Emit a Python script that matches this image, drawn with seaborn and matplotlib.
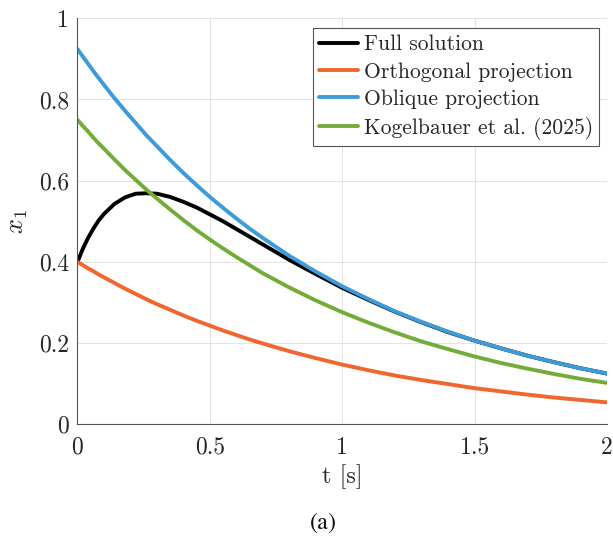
import matplotlib
matplotlib.use("Agg")
import matplotlib.pyplot as plt
from matplotlib.font_manager import FontProperties
import seaborn as sns
import pandas as pd

# time samples [s]
t = [0.00, 0.02, 0.04, 0.06, 0.08, 0.10, 0.14, 0.18, 0.22, 0.26, 0.30,
     0.35, 0.40, 0.45, 0.50, 0.55, 0.60, 0.65, 0.70, 0.80, 0.90, 1.00,
     1.10, 1.20, 1.30, 1.40, 1.50, 1.60, 1.70, 1.80, 1.90, 2.00]

full_solution = [0.400, 0.432, 0.459, 0.482, 0.502, 0.518, 0.543, 0.559, 0.568, 0.569, 0.568,
                 0.560, 0.548, 0.534, 0.517, 0.500, 0.481, 0.462, 0.443, 0.405, 0.370, 0.336,
                 0.306, 0.277, 0.251, 0.227, 0.206, 0.187, 0.169, 0.153, 0.138, 0.125]
orthogonal = [0.400, 0.392, 0.384, 0.377, 0.369, 0.362, 0.348, 0.334, 0.321, 0.308, 0.296,
              0.282, 0.268, 0.255, 0.243, 0.231, 0.220, 0.209, 0.199, 0.180, 0.163, 0.147,
              0.133, 0.120, 0.109, 0.099, 0.089, 0.081, 0.073, 0.066, 0.060, 0.054]
oblique = [0.924, 0.906, 0.888, 0.870, 0.853, 0.836, 0.803, 0.772, 0.742, 0.712, 0.685,
           0.651, 0.619, 0.589, 0.560, 0.533, 0.507, 0.482, 0.459, 0.415, 0.376, 0.340,
           0.308, 0.278, 0.252, 0.228, 0.206, 0.187, 0.169, 0.153, 0.138, 0.125]
kogelbauer = [0.750, 0.735, 0.721, 0.706, 0.692, 0.679, 0.652, 0.626, 0.602, 0.578, 0.556,
              0.529, 0.503, 0.478, 0.455, 0.433, 0.412, 0.392, 0.372, 0.337, 0.305, 0.276,
              0.250, 0.226, 0.204, 0.185, 0.167, 0.151, 0.137, 0.124, 0.112, 0.102]

labels = ["Full solution", "Orthogonal projection", "Oblique projection",
          "Kogelbauer et al. (2025)"]
series = [full_solution, orthogonal, oblique, kogelbauer]
colors = ["#000000", "#F0662F", "#3C9BD8", "#74AC3A"]

x_ticks = [0, 0.5, 1, 1.5, 2]
x_tick_labels = ["0", "0.5", "1", "1.5", "2"]
y_ticks = [0, 0.2, 0.4, 0.6, 0.8, 1]
y_tick_labels = ["0", "0.2", "0.4", "0.6", "0.8", "1"]

sns.set_theme(style="white")
plt.rcParams["font.family"] = ["cmr10", "DejaVu Serif"]
plt.rcParams["mathtext.fontset"] = "cm"
plt.rcParams["axes.formatter.use_mathtext"] = True

frames = [pd.DataFrame({"t": t, "x1": v, "case": lab}) for v, lab in zip(series, labels)]
df = pd.concat(frames, ignore_index=True)

fig = plt.figure(figsize=(6.13, 5.41), dpi=100)
ax = fig.add_axes([0.1264, 0.2157, 0.8638, 0.7505])

sns.lineplot(data=df, x="t", y="x1", hue="case", hue_order=labels,
             palette=dict(zip(labels, colors)), linewidth=2.8, ax=ax,
             legend=True, estimator=None, sort=False)

ax.set_xlim(0, 2)
ax.set_ylim(0, 1)
ax.set_xticks(x_ticks)
ax.set_xticklabels(x_tick_labels)
ax.set_yticks(y_ticks)
ax.set_yticklabels(y_tick_labels)
ax.grid(True, color="#E3E3E3", linewidth=0.7)
ax.set_axisbelow(True)

for side in ("top", "right"):
    ax.spines[side].set_visible(False)
for side in ("left", "bottom"):
    ax.spines[side].set_color("#555555")
    ax.spines[side].set_linewidth(0.8)

ax.tick_params(axis="both", direction="in", length=4, width=0.8, color="#555555",
               labelsize=17, labelcolor="#262626")
ax.tick_params(axis="x", pad=9)
ax.tick_params(axis="y", pad=6)

ax.set_xlabel("t [s]", fontsize=17.5, color="#262626")
ax.xaxis.set_label_coords(0.5, -0.098)
ax.set_ylabel(r"$x_1$", fontsize=19, color="#262626")
ax.yaxis.set_label_coords(-0.089, 0.5)

leg = ax.legend(loc="upper right", bbox_to_anchor=(0.9855, 0.9754), borderaxespad=0,
                fontsize=15.5, frameon=True, fancybox=False, framealpha=1,
                edgecolor="#555555", handlelength=1.8, handletextpad=0.25,
                borderpad=0.3, labelspacing=0.36, title=None)
leg.get_frame().set_linewidth(0.8)
for line in leg.get_lines():
    line.set_linewidth(2.8)

caption_font = FontProperties(family="STIXGeneral", size=17.5)
fig.text(0.527, 1 - 523 / 541, "(a)", ha="center", va="center",
         fontproperties=caption_font, color="#111111")

fig.savefig("out.png", dpi=100)
